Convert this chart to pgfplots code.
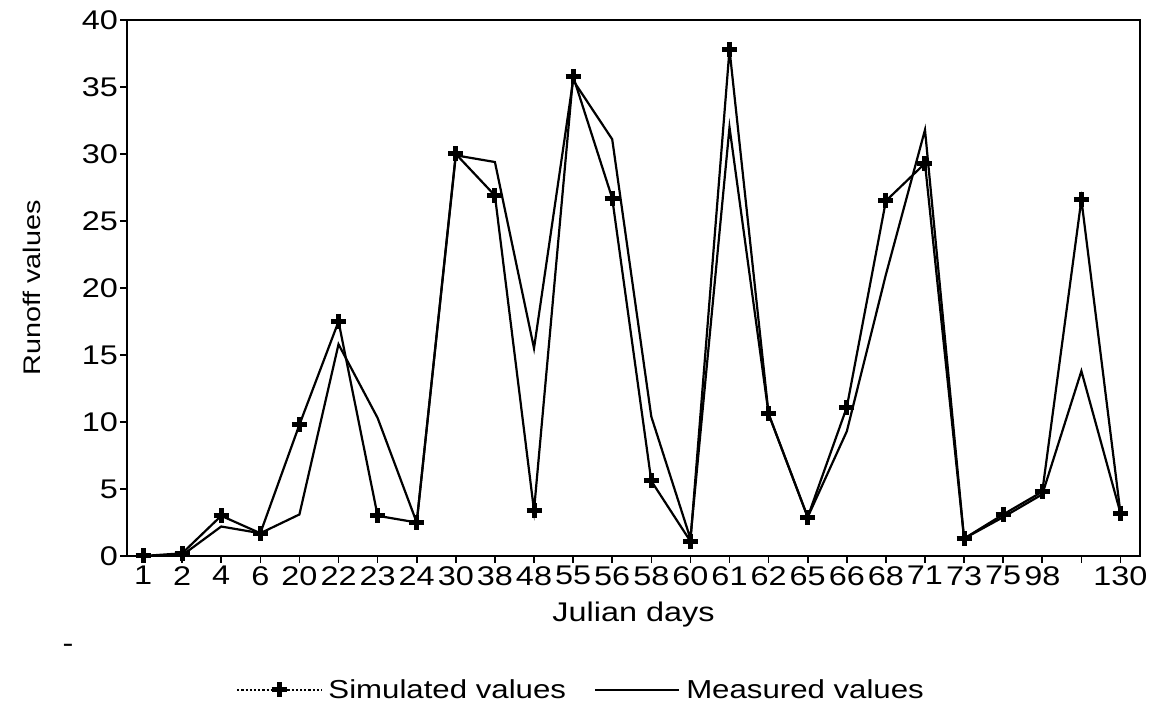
\documentclass[border=0pt]{standalone}
\usepackage{fontspec}
\setmainfont{Liberation Sans}[FakeStretch=1.2]
\usepackage{pgfplots}
\pgfplotsset{compat=1.18}
\begin{document}
\begin{tikzpicture}[x=1bp,y=1bp]
\path[use as bounding box] (0,0) rectangle (1153,711);
\begin{axis}[
  at={(127bp,155bp)}, anchor=south west,
  scale only axis, width=1013bp, height=536bp,
  xmin=-0.41, xmax=25.5, ymin=0, ymax=40,
  xtick={0,...,25},
  xticklabels={1,2,4,6,20,22,23,24,30,38,48,55,56,58,60,61,62,65,66,68,71,73,75,98,,130},
  ytick={0,5,...,40},
  tick align=outside, xtick pos=bottom, ytick pos=left,
  major tick length=7bp,
  every tick/.style={black, line width=1.6bp},
  axis line style={line width=2.2bp},
  /pgf/number format/assume math mode=true,
  tick label style={font=\fontsize{27bp}{30bp}\selectfont},
  xticklabel style={inner sep=1bp, yshift=-2bp},
  yticklabel style={inner sep=2bp},
  xlabel style={font=\fontsize{27bp}{30bp}\selectfont, yshift=-12bp},
  ylabel style={font=\fontsize{24bp}{28bp}\selectfont, yshift=36bp},
  xlabel={Julian days}, ylabel={Runoff values},
  legend columns=2,
  legend style={at={(0.45,-0.25)}, anchor=center, draw=none, fill=none,
    font=\fontsize{26bp}{30bp}\selectfont,
    /tikz/every even column/.append style={column sep=22bp},
    nodes={inner sep=6bp}},
  legend image code/.code={\draw[mark repeat=2,mark phase=2,#1] plot coordinates {(0bp,0bp) (42bp,0bp) (84bp,0bp)};},
]
\addplot[black, line width=2.2bp, mark=+, mark size=7.5bp,
  mark options={solid, line width=5bp},
  legend image post style={dotted, line width=2.6bp}] coordinates {
(0,0) (1,0.2) (2,3.0) (3,1.7) (4,9.8) (5,17.5) (6,3.0) (7,2.5) (8,30.0) (9,26.9)
(10,3.4) (11,35.8) (12,26.7) (13,5.6) (14,1.1) (15,37.8) (16,10.6) (17,2.9) (18,11.1) (19,26.5)
(20,29.3) (21,1.3) (22,3.1) (23,4.8) (24,26.6) (25,3.2)
};
\addlegendentry{Simulated values}
\addplot[black, line width=2.2bp, no marks] coordinates {
(0,0) (1,0.05) (2,2.2) (3,1.7) (4,3.1) (5,15.8) (6,10.3) (7,2.5) (8,29.9) (9,29.4)
(10,15.5) (11,35.5) (12,31.1) (13,10.4) (14,1.3) (15,32.0) (16,10.6) (17,2.9) (18,9.3) (19,21.0)
(20,31.8) (21,1.3) (22,2.9) (23,4.6) (24,13.8) (25,3.2)
};
\addlegendentry{Measured values}
\end{axis}
\node[font=\fontsize{27bp}{30bp}\selectfont] at (68,63) {-};
\end{tikzpicture}
\end{document}
